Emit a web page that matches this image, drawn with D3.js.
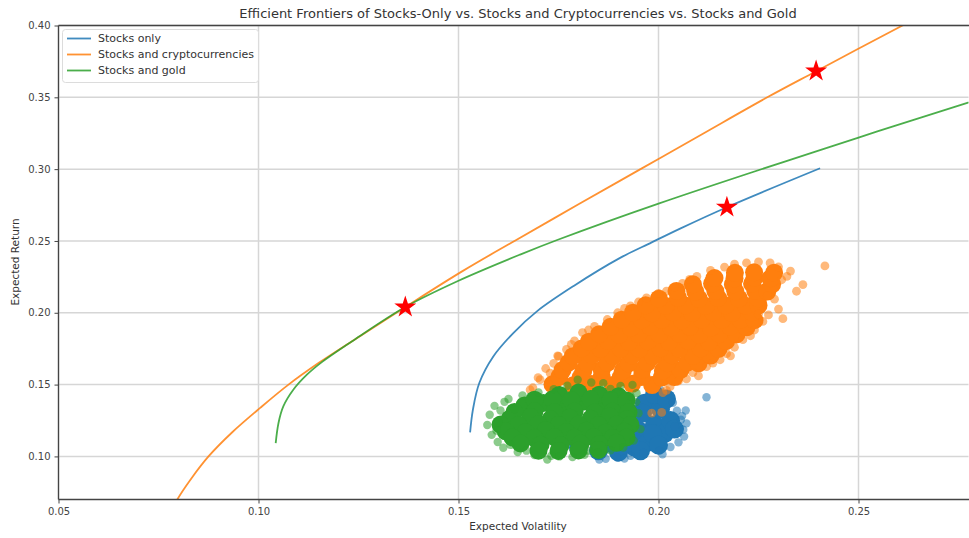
<!DOCTYPE html>
<html>
<head>
<meta charset="utf-8">
<script src="https://cdnjs.cloudflare.com/ajax/libs/d3/7.8.5/d3.min.js"></script>
<style>
  body { margin: 0; background: #fff; }
  text { font-family: "DejaVu Sans", sans-serif; }
  .grid line { stroke: #d6d6d6; stroke-width: 1.5; }
  .axis path { display: none; }
  .axis line { stroke: #444; }
  .axis text { fill: #444; font-size: 10px; font-family: "DejaVu Sans", sans-serif; }
  .spine { stroke: #444; stroke-width: 1.3; }
  .frontier { fill: none; stroke-width: 1.8; }
  .axis-label { fill: #333; font-size: 10.5px; }
  .title { fill: #333; font-size: 13px; }
  .legend text { fill: #333; font-size: 11px; }
</style>
</head>
<body>
<div id="chart"></div>
<script>
// [expected volatility, expected return]
var stocksFrontier = [[0.1529, 0.1167], [0.1536, 0.1325], [0.1552, 0.1511], [0.1587, 0.1696], [0.1637, 0.1859],
  [0.1696, 0.2010], [0.1787, 0.2185], [0.1904, 0.2382], [0.1983, 0.2490], [0.2054, 0.2586], [0.2171, 0.2735],
  [0.2404, 0.3006]];
var cryptoFrontier = [[0.0790, 0.0660], [0.0797, 0.0700], [0.0833, 0.0850], [0.0875, 0.1000], [0.0935, 0.1170],
  [0.1005, 0.1340], [0.1075, 0.1500], [0.1150, 0.1650], [0.1240, 0.1813], [0.1367, 0.2040], [0.1510, 0.2290],
  [0.1640, 0.2500], [0.1800, 0.2755], [0.1955, 0.3000], [0.2110, 0.3245], [0.2272, 0.3500], [0.2393, 0.3680],
  [0.2610, 0.4000], [0.2680, 0.4100]];
var goldFrontier = [[0.1043, 0.1093], [0.1050, 0.1233], [0.1062, 0.1348], [0.1087, 0.1464], [0.1121, 0.1569],
  [0.1160, 0.1660], [0.1240, 0.1813], [0.1367, 0.2040], [0.1500, 0.2223], [0.1654, 0.2405], [0.1750, 0.2510],
  [0.2000, 0.2760], [0.2500, 0.3220], [0.2774, 0.3463], [0.2820, 0.3500]];

// max sharpe portfolios
var stars = [[0.1367, 0.2040], [0.2171, 0.2735], [0.2394, 0.3682]];

// simulated portfolios: dense middle and loose outer points
var stocksCore = [[0.1760, 0.1120], [0.1800, 0.1060], [0.1820, 0.1180], [0.1850, 0.1040], [0.1855, 0.1150],
  [0.1880, 0.1250], [0.1900, 0.1030], [0.1905, 0.1120], [0.1940, 0.1065], [0.1950, 0.1180], [0.1930, 0.1300],
  [0.1975, 0.1100], [0.1990, 0.1220], [0.1965, 0.1370], [0.2005, 0.1330], [0.2015, 0.1160], [0.2030, 0.1250],
  [0.1990, 0.1430], [0.1960, 0.1300], [0.2020, 0.1400], [0.2040, 0.1190], [0.1985, 0.1160], [0.2000, 0.1080],
  [0.1955, 0.1040], [0.1870, 0.1090], [0.1920, 0.1220]];
var stocksEdge = [[0.2004, 0.1464], [0.2022, 0.1435], [0.2036, 0.1374], [0.2046, 0.1318], [0.2056, 0.1255],
  [0.2062, 0.1186], [0.2064, 0.1138], [0.2050, 0.1098], [0.2030, 0.1066], [0.2002, 0.1040], [0.1962, 0.1024],
  [0.1930, 0.1004], [0.1898, 0.0990], [0.1868, 0.0984], [0.1852, 0.0978], [0.2068, 0.1320], [0.2120, 0.1412],
  [0.1985, 0.1482], [0.2041, 0.1208], [0.2059, 0.1282], [0.1915, 0.0985], [0.2010, 0.1015], [0.2070, 0.1230]];

var cryptoCore = [
  [0.1735, 0.1502], [0.1787, 0.1495], [0.1833, 0.1504], [0.1886, 0.1498], [0.1934, 0.1505], [0.1984, 0.1497],
  [0.1752, 0.1553], [0.1805, 0.1549], [0.1858, 0.1552], [0.1905, 0.1548], [0.1958, 0.1553], [0.2008, 0.1549], [0.2040, 0.1552],
  [0.1760, 0.1601], [0.1812, 0.1596], [0.1858, 0.1604], [0.1911, 0.1598], [0.1959, 0.1603], [0.2011, 0.1597], [0.2055, 0.1602],
  [0.1775, 0.1652], [0.1822, 0.1648], [0.1872, 0.1651], [0.1925, 0.1647], [0.1972, 0.1653], [0.2022, 0.1649], [0.2072, 0.1652], [0.2100, 0.1648],
  [0.1786, 0.1698], [0.1834, 0.1704], [0.1887, 0.1697], [0.1934, 0.1702], [0.1986, 0.1696], [0.2034, 0.1703], [0.2086, 0.1699], [0.2130, 0.1702],
  [0.1808, 0.1752], [0.1855, 0.1748], [0.1905, 0.1751], [0.1952, 0.1747], [0.2005, 0.1753], [0.2052, 0.1749], [0.2105, 0.1752], [0.2150, 0.1748],
  [0.1826, 0.1799], [0.1874, 0.1803], [0.1926, 0.1797], [0.1973, 0.1802], [0.2026, 0.1798], [0.2074, 0.1804], [0.2126, 0.1797], [0.2169, 0.1802],
  [0.1852, 0.1851], [0.1902, 0.1848], [0.1950, 0.1852], [0.2002, 0.1849], [0.2052, 0.1853], [0.2102, 0.1848], [0.2152, 0.1851], [0.2195, 0.1849],
  [0.1880, 0.1902], [0.1931, 0.1897], [0.1979, 0.1903], [0.2031, 0.1898], [0.2079, 0.1901], [0.2131, 0.1897], [0.2179, 0.1903], [0.2220, 0.1899],
  [0.1908, 0.1952], [0.1958, 0.1948], [0.2008, 0.1951], [0.2058, 0.1947], [0.2108, 0.1952], [0.2158, 0.1949], [0.2205, 0.1951], [0.2240, 0.1948],
  [0.1936, 0.2001], [0.1984, 0.1997], [0.2036, 0.2003], [0.2084, 0.1998], [0.2136, 0.2002], [0.2184, 0.1998], [0.2234, 0.2003],
  [0.1968, 0.2052], [0.2018, 0.2048], [0.2068, 0.2051], [0.2118, 0.2047], [0.2168, 0.2052], [0.2218, 0.2049], [0.2250, 0.2051],
  [0.2001, 0.2098], [0.2049, 0.2103], [0.2101, 0.2097], [0.2149, 0.2102], [0.2201, 0.2098], [0.2249, 0.2101],
  [0.2045, 0.2152], [0.2092, 0.2148], [0.2142, 0.2151], [0.2192, 0.2149], [0.2242, 0.2152], [0.2272, 0.2148],
  [0.2086, 0.2198], [0.2134, 0.2203], [0.2186, 0.2197], [0.2234, 0.2202], [0.2284, 0.2198],
  [0.2140, 0.2242], [0.2190, 0.2239], [0.2240, 0.2243], [0.2280, 0.2240],
  [0.2191, 0.2278], [0.2239, 0.2282], [0.2289, 0.2279]];
var cryptoEdge = [[0.1686, 0.1478], [0.1704, 0.1534], [0.1729, 0.1580], [0.1738, 0.1648], [0.1748, 0.1700],
  [0.1770, 0.1745], [0.1790, 0.1805], [0.1810, 0.1862], [0.1840, 0.1905], [0.1872, 0.1953], [0.1898, 0.2000],
  [0.1930, 0.2048], [0.1970, 0.2104], [0.2020, 0.2150], [0.2060, 0.2205], [0.2096, 0.2253], [0.2130, 0.2295],
  [0.2165, 0.2318], [0.2220, 0.2347], [0.2279, 0.2347], [0.2321, 0.2253], [0.2361, 0.2196], [0.2416, 0.2326],
  [0.2345, 0.2150], [0.2300, 0.2026], [0.2311, 0.1959], [0.2261, 0.1940], [0.2240, 0.1880], [0.2211, 0.1813],
  [0.2190, 0.1760], [0.2154, 0.1673], [0.2120, 0.1625], [0.2086, 0.1583], [0.2050, 0.1525], [0.2029, 0.1485],
  [0.2011, 0.1444], [0.1983, 0.1302], [0.2008, 0.1306], [0.2272, 0.2120], [0.2330, 0.2290], [0.2250, 0.1990],
  [0.2180, 0.1700], [0.2100, 0.1560], [0.1679, 0.1464], [0.1750, 0.1696], [0.1699, 0.1548], [0.1718, 0.1612],
  [0.1782, 0.1780], [0.1825, 0.1880], [0.1915, 0.2030], [0.1950, 0.2075], [0.2000, 0.2135], [0.2040, 0.2180],
  [0.2078, 0.2232], [0.2190, 0.2338], [0.2250, 0.2355], [0.2300, 0.2320], [0.2308, 0.2230], [0.2290, 0.2095],
  [0.2275, 0.1985], [0.2230, 0.1840], [0.2170, 0.1715], [0.2136, 0.1650], [0.2070, 0.1540], [0.2020, 0.1460]];

var goldCore = [[0.1665, 0.1355], [0.1712, 0.1372], [0.1760, 0.1360], [0.1810, 0.1380], [0.1858, 0.1362], [0.1902, 0.1348],
  [0.1752, 0.1428], [0.1800, 0.1445], [0.1852, 0.1430], [0.1900, 0.1418],
  [0.1690, 0.1395], [0.1735, 0.1398], [0.1782, 0.1392], [0.1830, 0.1400], [0.1880, 0.1394], [0.1920, 0.1390],
  [0.1640, 0.1310], [0.1690, 0.1314], [0.1740, 0.1308], [0.1790, 0.1312], [0.1840, 0.1306], [0.1885, 0.1313], [0.1925, 0.1308],
  [0.1628, 0.1262], [0.1680, 0.1275], [0.1730, 0.1258], [0.1778, 0.1270], [0.1830, 0.1262], [0.1878, 0.1278], [0.1922, 0.1260],
  [0.1605, 0.1222], [0.1650, 0.1218], [0.1700, 0.1224], [0.1750, 0.1219], [0.1800, 0.1223], [0.1850, 0.1218], [0.1895, 0.1222], [0.1930, 0.1219],
  [0.1618, 0.1175], [0.1668, 0.1168], [0.1718, 0.1182], [0.1770, 0.1170], [0.1820, 0.1178], [0.1868, 0.1165], [0.1915, 0.1172],
  [0.1635, 0.1132], [0.1690, 0.1128], [0.1740, 0.1134], [0.1790, 0.1130], [0.1838, 0.1133], [0.1885, 0.1129], [0.1920, 0.1132],
  [0.1655, 0.1090], [0.1705, 0.1082], [0.1755, 0.1078], [0.1805, 0.1090], [0.1852, 0.1085], [0.1895, 0.1095],
  [0.1700, 0.1040], [0.1750, 0.1038], [0.1800, 0.1042], [0.1850, 0.1045]];
var goldEdge = [[0.1572, 0.1219], [0.1578, 0.1290], [0.1590, 0.1352], [0.1583, 0.1150], [0.1598, 0.1100],
  [0.1612, 0.1060], [0.1625, 0.1400], [0.1648, 0.1030], [0.1660, 0.1425], [0.1690, 0.1010], [0.1700, 0.1445],
  [0.1722, 0.0978], [0.1738, 0.1468], [0.1752, 0.1000], [0.1772, 0.1492], [0.1785, 0.0995], [0.1798, 0.1534],
  [0.1815, 0.1012], [0.1832, 0.1515], [0.1848, 0.1028], [0.1862, 0.1510], [0.1880, 0.1042], [0.1905, 0.1490],
  [0.1912, 0.1062], [0.1935, 0.1498], [0.1944, 0.1378], [0.1950, 0.1300], [0.1955, 0.1190], [0.1938, 0.1110],
  [0.1930, 0.1420], [0.1600, 0.1235], [0.1640, 0.1330], [0.1605, 0.1320], [0.1595, 0.1180], [0.1630, 0.1080],
  [0.1670, 0.1040], [0.1732, 0.1005], [0.1825, 0.1040], [0.1945, 0.1440], [0.1880, 0.1470], [0.1615, 0.1380]];

var xTicks = [0.05, 0.10, 0.15, 0.20, 0.25];
var yTicks = [0.10, 0.15, 0.20, 0.25, 0.30, 0.35, 0.40];
var seriesNames = ["Stocks only", "Stocks and cryptocurrencies", "Stocks and gold"];
var seriesColors = ["#1f77b4", "#ff7f0e", "#2ca02c"];

function init() {
  var w = 969;
  var h = 538;
  var left = 58.5, right = 968.5, top = 25.5, bottom = 499.5;

  var svg = d3.select("#chart")
    .append("svg")
    .attr("width", w)
    .attr("height", h);

  var xScale = d3.scaleLinear().domain([0.05, 0.2775]).range([left, right]);
  var yScale = d3.scaleLinear().domain([0.07, 0.40]).range([bottom, top]);

  svg.append("clipPath")
    .attr("id", "plot-clip")
    .append("rect")
    .attr("x", left)
    .attr("y", top)
    .attr("width", right - left)
    .attr("height", bottom - top);

  // grid
  var grid = svg.append("g").attr("class", "grid");
  grid.selectAll(".vgrid")
    .data(xTicks)
    .enter()
    .append("line")
    .attr("x1", function(d) { return xScale(d); })
    .attr("x2", function(d) { return xScale(d); })
    .attr("y1", top)
    .attr("y2", bottom);
  grid.selectAll(".hgrid")
    .data(yTicks)
    .enter()
    .append("line")
    .attr("x1", left)
    .attr("x2", right)
    .attr("y1", function(d) { return yScale(d); })
    .attr("y2", function(d) { return yScale(d); });

  var plot = svg.append("g").attr("clip-path", "url(#plot-clip)");

  var scatter = function(data, color, r, opacity) {
    plot.append("g")
      .selectAll("circle")
      .data(data)
      .enter()
      .append("circle")
      .attr("cx", function(d) { return xScale(d[0]); })
      .attr("cy", function(d) { return yScale(d[1]); })
      .attr("r", r)
      .attr("fill", color)
      .attr("fill-opacity", opacity);
  };

  // cores are opaque so overlaps merge into one solid patch
  scatter(stocksCore, seriesColors[0], 9.5, 1);
  scatter(stocksEdge, seriesColors[0], 4.2, 0.55);
  scatter(cryptoCore, seriesColors[1], 9, 1);
  scatter(cryptoEdge, seriesColors[1], 4.4, 0.55);
  scatter(goldCore, seriesColors[2], 9, 1);
  scatter(goldEdge, seriesColors[2], 4.2, 0.55);

  var line = d3.line()
    .x(function(d) { return xScale(d[0]); })
    .y(function(d) { return yScale(d[1]); })
    .curve(d3.curveCatmullRom.alpha(0.5));

  [stocksFrontier, cryptoFrontier, goldFrontier].forEach(function(data, i) {
    plot.append("path")
      .datum(data)
      .attr("class", "frontier")
      .attr("stroke", seriesColors[i])
      .attr("stroke-opacity", 0.85)
      .attr("d", line);
  });

  plot.selectAll(".star")
    .data(stars)
    .enter()
    .append("path")
    .attr("class", "star")
    .attr("d", d3.symbol().type(d3.symbolStar).size(150))
    .attr("transform", function(d) { return "translate(" + xScale(d[0]) + "," + yScale(d[1]) + ")"; })
    .attr("fill", "#ff0000");

  // axes
  var xAxis = d3.axisBottom(xScale)
    .tickValues(xTicks)
    .tickSize(4)
    .tickPadding(4)
    .tickFormat(d3.format(".2f"));
  var yAxis = d3.axisLeft(yScale)
    .tickValues(yTicks)
    .tickSize(4)
    .tickPadding(4)
    .tickFormat(d3.format(".2f"));

  svg.append("g")
    .attr("class", "axis")
    .attr("transform", "translate(0," + bottom + ")")
    .call(xAxis);
  svg.append("g")
    .attr("class", "axis")
    .attr("transform", "translate(" + left + ",0)")
    .call(yAxis);

  svg.append("line").attr("class", "spine")
    .attr("x1", left).attr("y1", top).attr("x2", left).attr("y2", bottom);
  svg.append("line").attr("class", "spine")
    .attr("x1", left).attr("y1", bottom).attr("x2", w).attr("y2", bottom);
  svg.append("line").attr("class", "spine")
    .attr("x1", left).attr("y1", top).attr("x2", w).attr("y2", top);

  svg.append("text")
    .attr("class", "title")
    .attr("x", 518)
    .attr("y", 18)
    .attr("text-anchor", "middle")
    .text("Efficient Frontiers of Stocks-Only vs. Stocks and Cryptocurrencies vs. Stocks and Gold");

  svg.append("text")
    .attr("class", "axis-label")
    .attr("x", 518)
    .attr("y", 530)
    .attr("text-anchor", "middle")
    .text("Expected Volatility");

  svg.append("text")
    .attr("class", "axis-label")
    .attr("transform", "rotate(-90, 19, 262)")
    .attr("x", 19)
    .attr("y", 262)
    .attr("text-anchor", "middle")
    .text("Expected Return");

  // legend
  var legend = svg.append("g").attr("class", "legend");
  legend.append("rect")
    .attr("x", 62.5)
    .attr("y", 29.5)
    .attr("width", 196)
    .attr("height", 53)
    .attr("rx", 3)
    .attr("fill", "#fff")
    .attr("fill-opacity", 0.8)
    .attr("stroke", "#dcdcdc");
  var items = legend.selectAll(".item")
    .data(seriesNames)
    .enter()
    .append("g")
    .attr("class", "item")
    .attr("transform", function(d, i) { return "translate(0," + (38.5 + i * 16) + ")"; });
  items.append("line")
    .attr("x1", 67)
    .attr("x2", 91)
    .attr("stroke", function(d, i) { return seriesColors[i]; })
    .attr("stroke-opacity", 0.85)
    .attr("stroke-width", 1.8);
  items.append("text")
    .attr("x", 98)
    .attr("dy", "0.35em")
    .text(function(d) { return d; });
}

window.onload = init;
</script>
</body>
</html>
